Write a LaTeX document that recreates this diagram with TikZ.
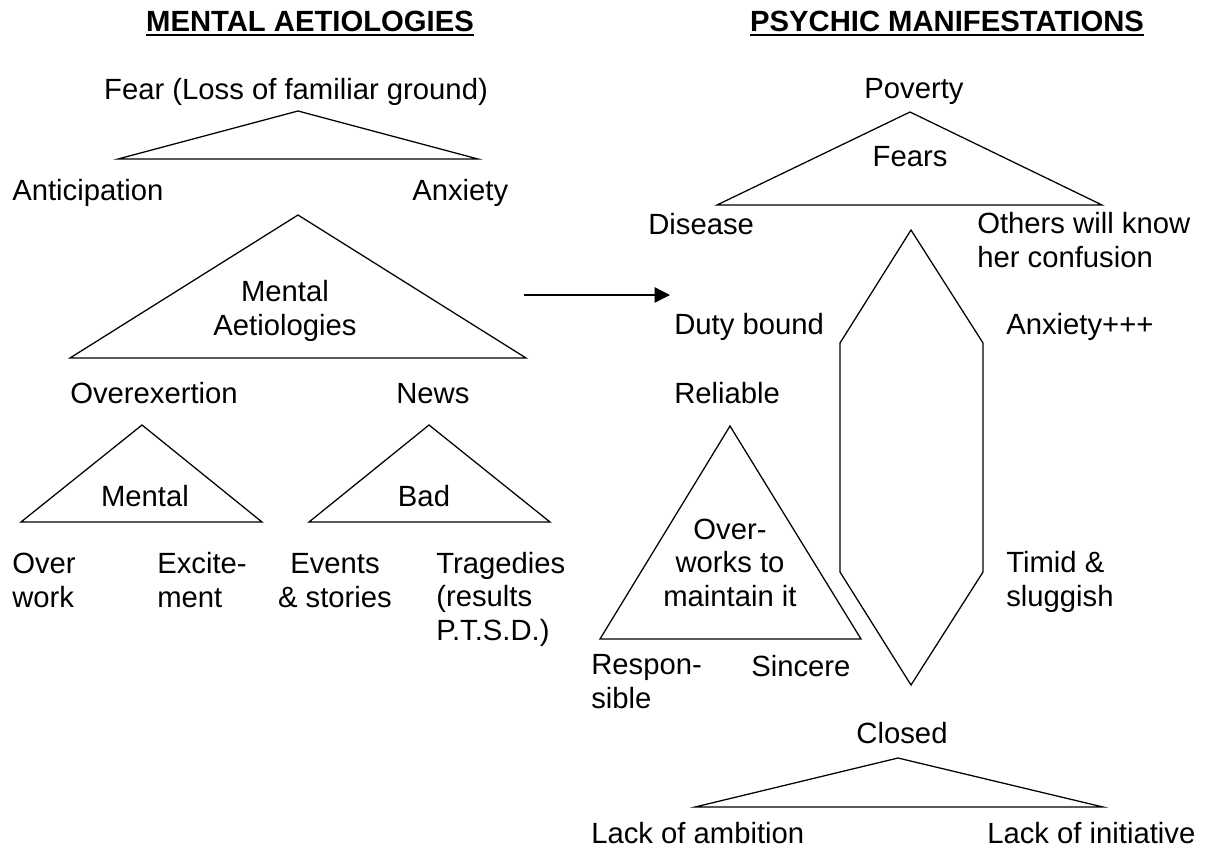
\documentclass[tikz,border=0pt]{standalone}
\usepackage{fontspec}
\setmainfont{Liberation Sans}
\usetikzlibrary{arrows.meta}

\begin{document}
\begin{tikzpicture}[x=0.025cm,y=-0.025cm]
  \tikzset{lbl/.style={inner sep=0pt,anchor=base west,align=left,font=\fontsize{20.8}{23.5}\selectfont},
           mid/.style={lbl,anchor=base,align=center},
           heading/.style={mid,font=\fontsize{20.8}{23.5}\selectfont\bfseries},
           tri/.style={draw,line width=0.9pt,line join=miter}}
  \useasboundingbox (0,0) rectangle (1207,855);

  % headings
  \node [heading] (hLeft) at (310,31) {MENTAL AETIOLOGIES};
  \node [heading] (hRight) at (947,31) {PSYCHIC MANIFESTATIONS};
  \draw [line width=1.4pt] ([yshift=-2.4pt]hLeft.south west) -- ([yshift=-2.4pt]hLeft.south east);
  \draw [line width=1.4pt] ([yshift=-2.4pt]hRight.south west) -- ([yshift=-2.4pt]hRight.south east);

  % mental aetiologies (multi-line nodes sit on their last line)
  \draw [tri] (298,111) -- (478,159) -- (118,159) -- cycle;
  \node [mid] (fear) at (296,99) {Fear (Loss of familiar ground)};
  \node [lbl] (anticip) at (12,200) {Anticipation};
  \node [lbl] (anxiety) at (412,200) {Anxiety};

  \draw [tri] (298,215) -- (526,358) -- (70,358) -- cycle;
  \node [mid] (aetio) at (285,335) {Mental\\Aetiologies};
  \node [lbl] (overex) at (70,403) {Overexertion};
  \node [lbl] (news) at (396,403) {News};

  \draw [tri] (142,425) -- (262,522) -- (21,522) -- cycle;
  \draw [tri] (429,425) -- (550,522) -- (309,522) -- cycle;
  \node [mid] (mental) at (145,506) {Mental};
  \node [mid] (bad) at (424,506) {Bad};
  \node [lbl] (overwork) at (12,607) {Over\\work};
  \node [lbl] (excite) at (157,607) {Excite-\\ment};
  \node [mid] (events) at (335,607) {Events\\\& stories};
  \node [lbl] (tragedy) at (436,640) {Tragedies\\(results\\P.T.S.D.)};

  \coordinate (arrS) at (524,295);
  \coordinate (arrE) at (670,295);
  \draw [line width=0.9pt,-{Triangle[length=11pt,width=11pt]}] (arrS) -- (arrE);

  % psychic manifestations
  \draw [tri] (910,112) -- (1102,205) -- (717,205) -- cycle;
  \node [mid] (poverty) at (914,98) {Poverty};
  \node [mid] (fears) at (910,166) {Fears};
  \node [lbl] (disease) at (648,234) {Disease};
  \node [lbl] (others) at (977,267) {Others will know\\her confusion};

  \draw [tri] (911,230) -- (983,343) -- (983,572) -- (911,685) -- (840,572) -- (840,343) -- cycle;
  \node [lbl] (duty) at (674,334) {Duty bound};
  \node [lbl] (anxplus) at (1006,334) {Anxiety+++};
  \node [lbl] (reliable) at (674,403) {Reliable};
  \node [lbl] (timid) at (1006,606) {Timid \&\\sluggish};

  \draw [tri] (730,426) -- (861,639) -- (600,639) -- cycle;
  \node [mid] (overworks) at (730,606) {Over-\\works to\\maintain it};
  \node [lbl] (respon) at (591,708) {Respon-\\sible};
  \node [lbl] (sincere) at (751,676) {Sincere};

  \draw [tri] (898,758) -- (1103,807) -- (695,807) -- cycle;
  \node [mid] (closed) at (902,743) {Closed};
  \node [lbl] (ambition) at (591,843) {Lack of ambition};
  \node [lbl] (initiative) at (987,843) {Lack of initiative};
\end{tikzpicture}
\end{document}
